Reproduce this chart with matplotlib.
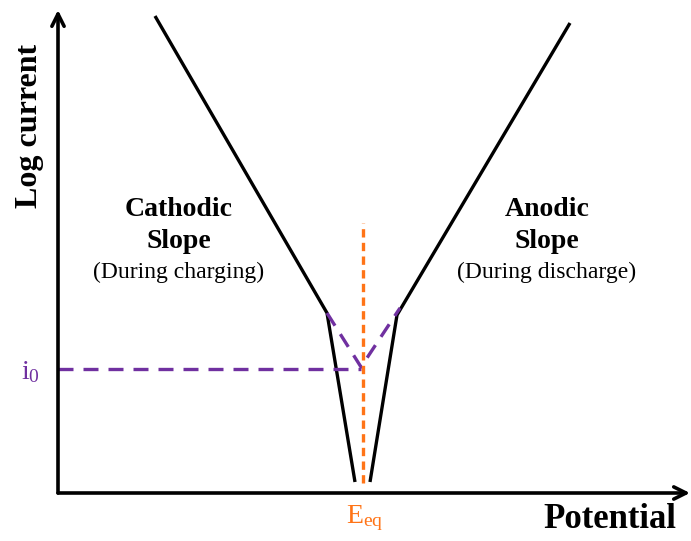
import matplotlib.pyplot as plt

plt.rcParams["mathtext.fontset"] = "custom"
plt.rcParams["mathtext.rm"] = "Liberation Serif"
plt.rcParams["mathtext.it"] = "Liberation Serif:italic"

# Tafel plot sketch: log current versus electrode potential (arbitrary units)
cathodic_potential = [0.97, 2.69, 2.97]
cathodic_logi = [4.77, 1.80, 0.11]
anodic_potential = [3.12, 3.39, 5.12]
anodic_logi = [0.11, 1.78, 4.70]

# extrapolated Tafel lines meeting at the exchange current
extrap_potential = [2.69, 3.03, 3.42]
extrap_logi = [1.80, 1.26, 1.85]
i0_level = 1.24
i0_potential_end = 3.03

e_eq = 3.05
e_eq_span = [0.10, 2.70]

x_max, y_max = 6.32, 4.83

BLACK = "#000000"
PURPLE = "#7030A0"
ORANGE = "#FF7417"
SERIF = ["Liberation Serif", "DejaVu Serif"]

fig = plt.figure(figsize=(6.91, 5.41), dpi=100)
ax = fig.add_axes([58 / 691, 48 / 541, (690 - 58) / 691, (493 - 10) / 541])
ax.set_xlim(0, x_max)
ax.set_ylim(0, y_max)
ax.axis("off")

# axes with arrow heads
arrow = dict(arrowstyle="->", lw=2.6, color=BLACK, mutation_scale=22,
             shrinkA=0, shrinkB=0)
ax.annotate("", xy=(x_max, 0), xytext=(0, 0), arrowprops=arrow,
            annotation_clip=False)
ax.annotate("", xy=(0, y_max), xytext=(0, 0), arrowprops=arrow,
            annotation_clip=False)

ax.plot(cathodic_potential, cathodic_logi, color=BLACK, lw=2.4,
        solid_capstyle="butt", solid_joinstyle="miter", clip_on=False)
ax.plot(anodic_potential, anodic_logi, color=BLACK, lw=2.4,
        solid_capstyle="butt", solid_joinstyle="miter", clip_on=False)

ax.plot([0, i0_potential_end], [i0_level, i0_level], color=PURPLE, lw=2.4,
        dashes=(4.5, 3), clip_on=False)
ax.plot(extrap_potential, extrap_logi, color=PURPLE, lw=2.4,
        dashes=(4.5, 3), clip_on=False)

ax.plot([e_eq, e_eq], e_eq_span, color=ORANGE, lw=2.4, dashes=(2.5, 1.6),
        clip_on=False)

# labels
fig.text(30 / 691, 1 - 126 / 541, "Log current", rotation=90, ha="center",
         va="center", family=SERIF, weight="bold", fontsize=23)
fig.text(610 / 691, 1 - 520 / 541, "Potential", ha="center", va="center",
         family=SERIF, weight="bold", fontsize=25)
fig.text(30 / 691, 1 - 372 / 541, r"i$_0$", ha="center", va="center",
         family=SERIF, fontsize=20, color=PURPLE)
fig.text(365 / 691, 1 - 518 / 541, r"E$_{\mathrm{eq}}$", ha="center",
         va="center", family=SERIF, fontsize=20, color=ORANGE)

for cx, title, note in [(179, "Cathodic", "(During charging)"),
                        (547, "Anodic", "(During discharge)")]:
    fig.text(cx / 691, 1 - 210 / 541, title, ha="center", va="center",
             family=SERIF, weight="bold", fontsize=20)
    fig.text(cx / 691, 1 - 242 / 541, "Slope", ha="center", va="center",
             family=SERIF, weight="bold", fontsize=20)
    fig.text(cx / 691, 1 - 272 / 541, note, ha="center", va="center",
             family=SERIF, fontsize=17)

fig.savefig("out.png", dpi=100)
